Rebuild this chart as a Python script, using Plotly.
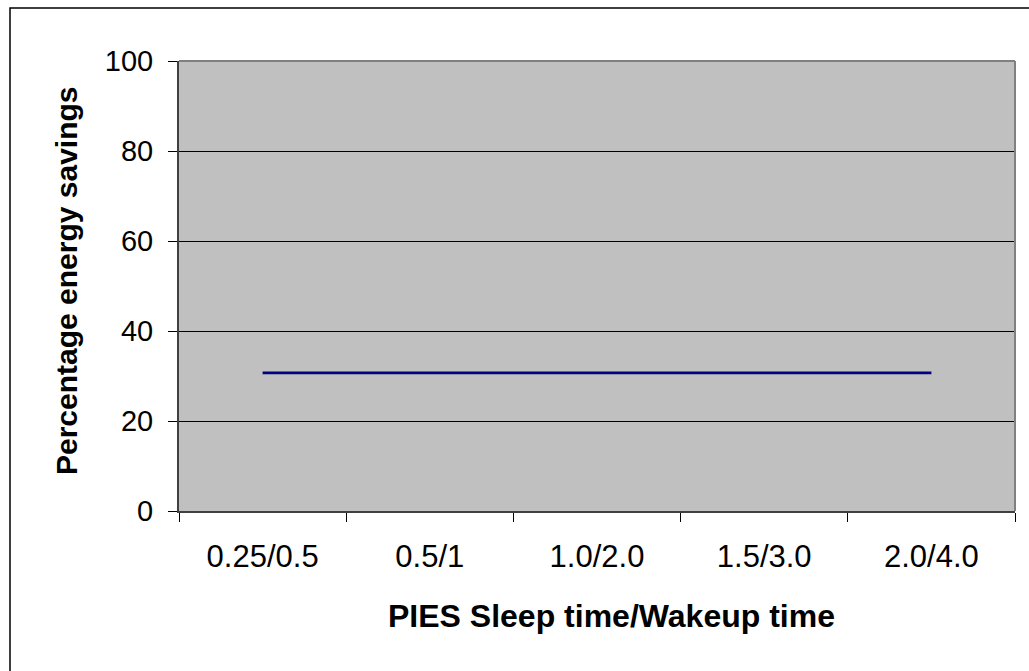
import plotly.graph_objects as go

# PIES sleep/wakeup settings and the resulting energy savings
categories = ["0.25/0.5", "0.5/1", "1.0/2.0", "1.5/3.0", "2.0/4.0"]
savings = [30.7, 30.7, 30.7, 30.7, 30.7]
y_ticks = [0, 20, 40, 60, 80, 100]

FONT = "Liberation Sans, Arial, sans-serif"

# plot-area size in pixels, used to place things outside it in paper units
L, R, T, B = 179, 14, 61, 160
pw, ph = 1029 - L - R, 671 - T - B


def px_x(x):
    return (x - L) / pw


def px_y(y):
    return (671 - B - y) / ph


fig = go.Figure()
fig.add_trace(go.Scatter(
    x=categories, y=savings, mode="lines",
    line=dict(color="#000080", width=2.8),
    showlegend=False, hoverinfo="x+y",
))

fig.update_layout(
    width=1029, height=671,
    margin=dict(l=L, r=R, t=T, b=B),
    paper_bgcolor="white",
    plot_bgcolor="#C0C0C0",
    font=dict(family=FONT, color="black"),
    xaxis=dict(
        type="category",
        range=[-0.5, len(categories) - 0.5],
        tickson="boundaries",
        ticks="outside", ticklen=9, tickcolor="black", tickwidth=1,
        tickfont=dict(size=31, family=FONT),
        ticklabelstandoff=17,
        showgrid=False, zeroline=False,
        showline=True, linecolor="#404040", linewidth=2,
    ),
    yaxis=dict(
        range=[0, 100],
        tickvals=y_ticks,
        ticks="outside", ticklen=9, tickcolor="black", tickwidth=1,
        tickfont=dict(size=29, family=FONT),
        ticklabelstandoff=9,
        showgrid=True, gridcolor="black", gridwidth=1,
        zeroline=False,
        showline=True, linecolor="#404040", linewidth=2,
    ),
)

# Axis titles
fig.add_annotation(text="<b>PIES Sleep time/Wakeup time</b>",
                   xref="paper", yref="paper", x=px_x(611), y=px_y(616),
                   xanchor="center", yanchor="middle", showarrow=False,
                   font=dict(size=32, family=FONT, color="black"))
fig.add_annotation(text="<b>Percentage energy savings</b>",
                   xref="paper", yref="paper", x=px_x(66), y=px_y(281),
                   xanchor="center", yanchor="middle", showarrow=False,
                   textangle=-90,
                   font=dict(size=30, family=FONT, color="black"))

# Plot area frame (top and right edges in grey)
fig.add_shape(type="line", xref="paper", yref="paper",
              x0=0, x1=1, y0=1, y1=1, line=dict(color="#808080", width=2))
fig.add_shape(type="line", xref="paper", yref="paper",
              x0=1, x1=1, y0=0, y1=1, line=dict(color="#808080", width=2))

# Outer chart border
fig.add_shape(type="rect", xref="paper", yref="paper",
              x0=px_x(10), x1=px_x(1040),
              y0=px_y(680), y1=px_y(8),
              line=dict(color="black", width=1.5), layer="above")

fig.write_html("out.html")
